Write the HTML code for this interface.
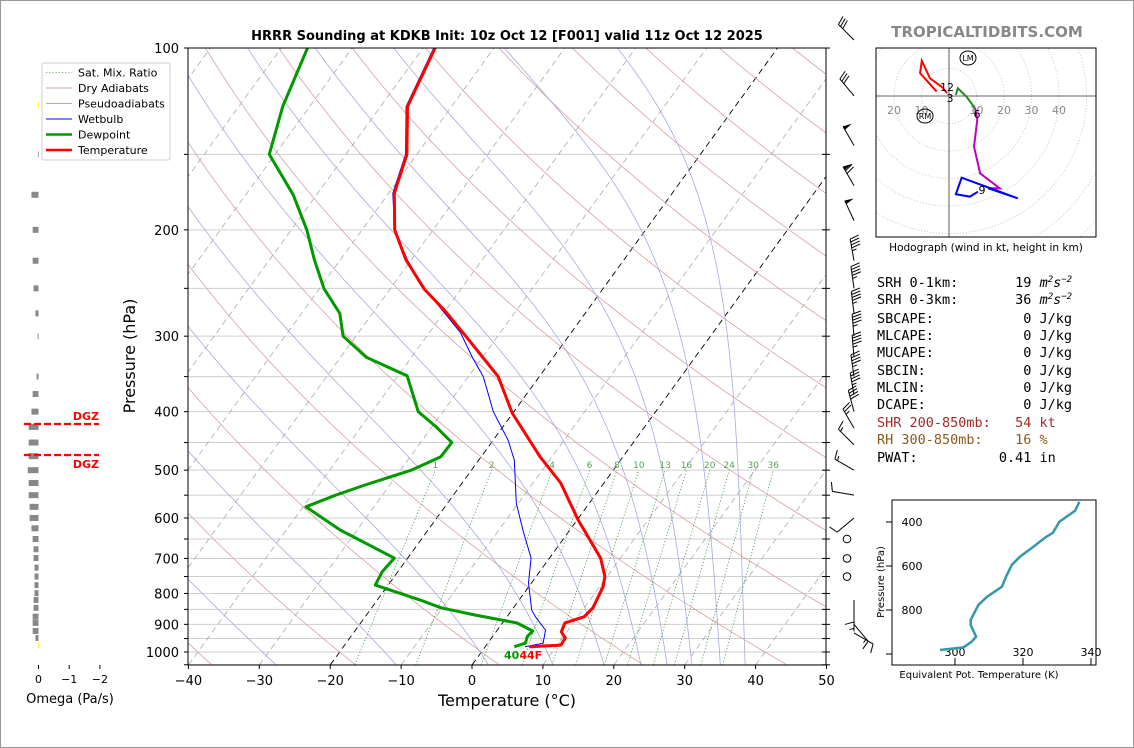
<!DOCTYPE html>
<html><head><meta charset="utf-8">
<style>
html,body{margin:0;padding:0;background:#fff;}
svg{display:block;}
text{font-family:"DejaVu Sans","Liberation Sans",sans-serif;}
.mono{font-family:"DejaVu Sans Mono","Liberation Mono",monospace;font-size:13.5px;}
</style></head>
<body>
<svg id="root" width="1134" height="748" viewBox="0 0 1134 748" xmlns="http://www.w3.org/2000/svg">
<defs><clipPath id="mainclip"><rect x="188" y="48" width="638" height="617"/></clipPath>
<clipPath id="hodoclip"><rect x="876" y="48" width="220" height="189"/></clipPath></defs>
<rect x="0.5" y="0.5" width="1133" height="747" fill="#fff" stroke="#999"/>
<text x="507" y="40" text-anchor="middle" font-size="13" font-weight="bold">HRRR Sounding at KDKB Init: 10z Oct 12 [F001] valid 11z Oct 12 2025</text>
<text x="987" y="37" text-anchor="middle" font-size="15" font-weight="bold" fill="#888">TROPICALTIDBITS.COM</text>
<g id="bg" clip-path="url(#mainclip)"></g>
<g id="prof" clip-path="url(#mainclip)"></g>
<g id="axes"></g>
<g id="barbs"></g>
<g id="omega"></g>
<g id="hodo"></g>
<g id="thetae"></g>
<g id="params">
<text class="mono" x="877" y="287" xml:space="preserve">SRH 0-1km:       19 <tspan font-style="italic">m<tspan baseline-shift="super" font-size="9">2</tspan>s<tspan baseline-shift="super" font-size="9">−2</tspan></tspan></text>
<text class="mono" x="877" y="304" xml:space="preserve">SRH 0-3km:       36 <tspan font-style="italic">m<tspan baseline-shift="super" font-size="9">2</tspan>s<tspan baseline-shift="super" font-size="9">−2</tspan></tspan></text>
<text class="mono" x="877" y="323" xml:space="preserve">SBCAPE:           0 J/kg</text>
<text class="mono" x="877" y="340" xml:space="preserve">MLCAPE:           0 J/kg</text>
<text class="mono" x="877" y="357" xml:space="preserve">MUCAPE:           0 J/kg</text>
<text class="mono" x="877" y="375" xml:space="preserve">SBCIN:            0 J/kg</text>
<text class="mono" x="877" y="392" xml:space="preserve">MLCIN:            0 J/kg</text>
<text class="mono" x="877" y="409" xml:space="preserve">DCAPE:            0 J/kg</text>
<text class="mono" x="877" y="427" xml:space="preserve" fill="#a52a2a">SHR 200-850mb:   54 kt</text>
<text class="mono" x="877" y="444" xml:space="preserve" fill="#8b5a1a">RH 300-850mb:    16 %</text>
<text class="mono" x="877" y="462" xml:space="preserve">PWAT:          0.41 in</text>
</g>
</svg>
<script>
// ---- Sounding data ----
const tempP = [100,125,150,174,200,224,251,272,300,326,350,402,475,525,604,699,750,780,845,874,895,926,948,974,980];
const tempC = [-68.3,-66.2,-61.4,-59.2,-55.4,-50.8,-45.1,-40.1,-34.5,-29.8,-25.8,-20.1,-11.7,-6.1,0.1,7.2,9.7,10.5,11.2,10.9,8.8,9.2,10.4,10.5,6.2];
const dewP = [100,125,150,175,200,224,250,275,300,325,349,400,424,450,475,500,529,550,575,628,699,736,775,820,845,868,895,923,943,967,980];
const dewC = [-86.3,-83.8,-80.8,-73.3,-67.8,-63.7,-59.4,-54.6,-51.8,-46.4,-38.7,-33.5,-29.4,-25.6,-25.7,-28.5,-33.5,-36.6,-39.6,-32.4,-21.9,-22.2,-21.8,-14.0,-10.2,-4.8,2.0,5.1,4.9,5.3,4.1];
const wbP = [100,125,150,174,200,224,248,273,296,326,350,400,446,481,567,632,699,769,852,874,920,967,980];
const wbC = [-68.5,-66.4,-61.6,-59.4,-55.4,-50.6,-45.7,-40.2,-35.6,-31.3,-27.9,-22.9,-17.9,-15.0,-10.3,-6.4,-2.6,-0.4,2.8,4.0,6.8,7.8,5.6];
const surfaceLabels = ['40','44F'];
const xTickVals = [-40,-30,-20,-10,0,10,20,30,40,50];
const yTickVals = [100,200,300,400,500,600,700,800,900,1000];
const mixRatios = [1,2,4,6,8,10,13,16,20,24,30,36];
const dryTheta = [-40,-20,0,20,40,60,80,100,120,140,160,180,200,220,240];
const moistStart = [-27.7,-10.7,2.3,11.4,18.6,23.8,27.5,31,35,38.5];
// winds
const barbP = [97,120,145,169,193,225,250,275,300,325,350,375,400,426,454,500,550,600,650,700,750,820,850,900,930];
const barbDir = [315,320,330,330,335,350,352,353,355,355,352,350,345,330,315,300,280,230,0,0,0,180,180,140,120];
const barbSpd = [30,30,50,70,50,45,45,45,45,45,45,45,40,25,15,15,10,10,0,0,0,10,5,15,10];
// omega
const omegaP = [124,150,175,200,225,250,275,300,350,374,400,424,450,474,500,525,550,575,600,624,650,676,699,725,750,775,799,820,845,874,895,923,948,975];
const omegaV = [0.01,0.02,0.23,0.19,0.19,0.16,0.1,0.03,0.06,0.19,0.23,0.32,0.32,0.32,0.35,0.32,0.32,0.29,0.29,0.23,0.19,0.16,0.16,0.13,0.13,0.13,0.13,0.16,0.16,0.19,0.19,0.19,0.1,0.01];
// hodograph (kt)
const hodoRedU = [-0.7,-2.7,-6.9,-9.9,-10.5,-4.5];
const hodoRedV = [1.1,3.4,6.4,12.8,8.3,1.6];
const hodoGreenU = [2.5,3.2,6.4,9.5];
const hodoGreenV = [0.4,2.8,-0.3,-4.5];
const hodoMagU = [9.5,10.3,9.1,11.3,18.5,14.2];
const hodoMagV = [-4.5,-8.5,-18.4,-28.1,-33.6,-33.5];
const hodoBlueU = [14.2,25,4.6,2.5,7.6,10.5];
const hodoBlueV = [-33.5,-37.2,-29.7,-35.7,-36.6,-34.8];
// theta-e
const thetaE = [295.6,302.5,304.9,306.2,304.6,304.6,306.9,309.4,313.8,315.0,316.7,319.1,323.1,326.5,328.8,330.7,335.3,336.6];
const thetaEP = [982,970,944,921,868,845,777,740,694,649,595,558,512,471,449,399,349,308];

const NS='http://www.w3.org/2000/svg';
function mk(parent,tag,attrs){const e=document.createElementNS(NS,tag);for(const k in attrs)e.setAttribute(k,attrs[k]);parent.appendChild(e);return e;}
function yP(p){return 48+604*Math.log10(p/100);}
function xT(T,p){return 472+7.09*T+0.725*(665-yP(p));}
function pts(ps,ts){return ps.map((p,i)=>xT(ts[i],p).toFixed(1)+','+yP(p).toFixed(1)).join(' ');}

const bg=document.getElementById('bg');
for(let p=100;p<=1050;p+=50){
  const l=mk(bg,'line',{x1:188,x2:826,y1:yP(p),y2:yP(p),stroke:'#cfcfcf','stroke-width':1});
  
  
}
for(let T=-110;T<=50;T+=10){
  const blk=(T===0||T===-20);
  const l=mk(bg,'line',{x1:xT(T,1050),y1:yP(1050),x2:xT(T,100),y2:yP(100),stroke:blk?'#000':'#aaa','stroke-width':blk?0.9:0.8,'stroke-dasharray':'6,4'});
  
  
}
dryTheta.forEach(th=>{
  const a=[];for(let p=1050;p>=100;p-=10){const T=(th+273.15)*Math.pow(p/1000,0.286)-273.15;a.push(xT(T,p).toFixed(1)+','+yP(p).toFixed(1));}
  const l=mk(bg,'polyline',{points:a.join(' '),fill:'none',stroke:'#d8a0a0','stroke-width':0.8});
  
  
});
function es(Tc){return 6.112*Math.exp(17.67*Tc/(Tc+243.5));}
function dTdp(T,p){const Tc=T-273.15;const e=es(Tc);const rs=0.622*e/(p-e);return (287.04*T+2.501e6*rs)/(1005.7+2.501e6*2.501e6*rs*0.622/(287.04*T*T))/p;}
moistStart.forEach(t0=>{
  let T=t0+273.15,p=1050;const a=[xT(t0,p).toFixed(1)+','+yP(p).toFixed(1)];
  while(p>100){const dp=-5;const k1=dTdp(T,p);const k2=dTdp(T+k1*dp,p+dp);T+=0.5*(k1+k2)*dp;p+=dp;a.push(xT(T-273.15,p).toFixed(1)+','+yP(p).toFixed(1));}
  const l=mk(bg,'polyline',{points:a.join(' '),fill:'none',stroke:'#a8a8e0','stroke-width':0.8});
  
  
});
function tdW(w,p){const e=w*p/(622+w);const g=Math.log(e/6.112);return 243.5*g/(17.67-g);}
mixRatios.forEach(w=>{
  const l=mk(bg,'line',{x1:xT(tdW(w,1050),1050),y1:yP(1050),x2:xT(tdW(w,500),500),y2:yP(500),stroke:'#3f9a3f','stroke-width':0.8,'stroke-dasharray':'1.2,2'});
  
  
  const t=mk(bg,'text',{x:xT(tdW(w,500),500),y:468,'font-size':9,fill:'#5aa05a','text-anchor':'middle'});
  t.textContent=String(w);
  
  
});

const prof=document.getElementById('prof');
const dl=mk(prof,'polyline',{points:pts(dewP,dewC),fill:'none',stroke:'#009900','stroke-width':3,'stroke-linejoin':'round'});


const wl=mk(prof,'polyline',{points:pts(wbP,wbC),fill:'none',stroke:'#0000ff','stroke-width':1});


const tl=mk(prof,'polyline',{points:pts(tempP,tempC),fill:'none',stroke:'#ff0000','stroke-width':3,'stroke-linejoin':'round'});


const sfc=mk(prof,'text',{x:504,y:659,'font-size':11,'font-weight':'bold'});


sfc.innerHTML='<tspan fill="#009900">'+surfaceLabels[0]+'</tspan><tspan fill="#ff0000">'+surfaceLabels[1]+'</tspan>';

const ax=document.getElementById('axes');
const fr=mk(ax,'rect',{x:188,y:48,width:638,height:617,fill:'none',stroke:'#000','stroke-width':1});


xTickVals.forEach(v=>{
  const x=472+7.09*v;
  const t=mk(ax,'line',{x1:x,x2:x,y1:665,y2:669,stroke:'#000'});
  
  
  const lb=mk(ax,'text',{x:x,y:685,'font-size':13,'text-anchor':'middle'});
  lb.textContent=(v<0?'\u2212':'')+Math.abs(v);
  
  
});
for(let p=100;p<=1050;p+=50){
  const major=yTickVals.indexOf(p)>=0;
  const y=yP(p);
  const t=mk(ax,'line',{x1:184,x2:188,y1:y,y2:y,stroke:'#000'});
  
  
  const t2=mk(ax,'line',{x1:822,x2:830,y1:y,y2:y,stroke:'#000'});
  
  
  if(major){
    const lb=mk(ax,'text',{x:179,y:y+5,'font-size':13,'text-anchor':'end'});
    lb.textContent=String(p);
    
    
  }
}
const xt=mk(ax,'text',{x:507,y:706,'font-size':16,'text-anchor':'middle'});
xt.textContent='Temperature (°C)';


const yt=mk(ax,'text',{x:135,y:356,'font-size':16,'text-anchor':'middle',transform:'rotate(-90 135 356)'});
yt.textContent='Pressure (hPa)';



const bg2=document.getElementById('barbs');
barbP.forEach((p,i)=>{
  const bx=854,by=yP(p),spd=barbSpd[i],d=barbDir[i]*Math.PI/180;
  const g=mk(bg2,'g',{stroke:'#000','stroke-width':1,fill:'#000'});
  
  
  if(spd<3){mk(g,'circle',{cx:847,cy:by,r:3.8,fill:'none'});return;}
  const sx=Math.sin(d),sy=-Math.cos(d),L=22;
  const tx=bx+sx*L,ty=by+sy*L;
  mk(g,'line',{x1:bx,y1:by,x2:tx,y2:ty});
  const fx=-sy,fy=sx;
  let rem=Math.round(spd/5)*5,pos=0;
  while(rem>=50){
    const ax1=tx-sx*pos,ay1=ty-sy*pos;
    mk(g,'polygon',{points:`${ax1},${ay1} ${ax1+fx*9-sx*2},${ay1+fy*9-sy*2} ${ax1-sx*4},${ay1-sy*4}`,stroke:'none'});
    pos+=5;rem-=50;
  }
  while(rem>=10){
    const ax1=tx-sx*pos,ay1=ty-sy*pos;
    mk(g,'line',{x1:ax1,y1:ay1,x2:ax1+fx*9+sx*2.5,y2:ay1+fy*9+sy*2.5});
    pos+=3;rem-=10;
  }
  if(rem>=5){
    if(pos===0)pos=3;
    const ax1=tx-sx*pos,ay1=ty-sy*pos;
    mk(g,'line',{x1:ax1,y1:ay1,x2:ax1+fx*4.5+sx*1.2,y2:ay1+fy*4.5+sy*1.2});
  }
});

const om=document.getElementById('omega');
function xO(v){return 38.5-v*30.7;}
omegaP.forEach((p,i)=>{
  const v=omegaV[i];
  const r=mk(om,'rect',{x:xO(v),y:yP(p)-3,width:Math.max(xO(0)-xO(v),0.8),height:6,fill:v<0.015?'#ffee00':'#888'});
  
  
});
[0,-1,-2].forEach(v=>{
  const t=mk(om,'line',{x1:xO(v),x2:xO(v),y1:665,y2:669,stroke:'#000'});
  
  
  const lb=mk(om,'text',{x:xO(v),y:683,'font-size':11,'text-anchor':'middle'});
  lb.textContent=v===0?'0':'\u2212'+Math.abs(v);
  
  
});
const ol=mk(om,'text',{x:70,y:703,'font-size':13,'text-anchor':'middle'});
ol.textContent='Omega (Pa/s)';


[424,455].forEach((y,i)=>{
  const l=mk(om,'line',{x1:24,x2:99,y1:y,y2:y,stroke:'#ff0000','stroke-width':2.2,'stroke-dasharray':'7,3'});
  
  
  const t=mk(om,'text',{x:99,y:i===0?420:468,'font-size':11,'font-weight':'bold',fill:'#ff0000','text-anchor':'end'});
  t.textContent='DGZ';
  
  
});
const lg=mk(om,'g',{});


mk(lg,'rect',{x:42,y:63,width:128,height:97,rx:2,fill:'#fff',stroke:'#ccc'});
const legItems=[['Sat. Mix. Ratio','#3f9a3f',0.8,'1.2,2'],['Dry Adiabats','#d8a0a0',1,''],['Pseudoadiabats','#a8a8e0',1,''],['Wetbulb','#0000ff',1,''],['Dewpoint','#009900',2.5,''],['Temperature','#ff0000',2.5,'']];
legItems.forEach((it,i)=>{
  const y=72.5+i*15.5;
  const e=mk(lg,'g',{});
  
  
  mk(e,'line',{x1:46,x2:72,y1:y,y2:y,stroke:it[1],'stroke-width':it[2],'stroke-dasharray':it[3]});
  const t=mk(e,'text',{x:78,y:y+4,'font-size':11});
  t.textContent=it[0];
});

const ho=document.getElementById('hodo');
function hx(u){return 949+u*2.75;}
function hy(v){return 96-v*2.75;}
const hc=mk(ho,'g',{'clip-path':'url(#hodoclip)'});
for(let r=10;r<=80;r+=10){
  const c=mk(hc,'circle',{cx:hx(0),cy:hy(0),r:r*2.75,fill:'none',stroke:'#bbb','stroke-width':0.8,'stroke-dasharray':'1,2'});
  
  
}
mk(hc,'line',{x1:876,x2:1096,y1:hy(0),y2:hy(0),stroke:'#333','stroke-width':0.8});
mk(hc,'line',{x1:hx(0),x2:hx(0),y1:48,y2:237,stroke:'#333','stroke-width':0.8});
[[-20,'20'],[-10,'10'],[10,'10'],[20,'20'],[30,'30'],[40,'40']].forEach(a=>{
  const t=mk(hc,'text',{x:hx(a[0]),y:114,'font-size':11,fill:'#888','text-anchor':'middle'});
  t.textContent=a[1];
  
  
});
function hline(us,vs,col,name){
  const l=mk(hc,'polyline',{points:us.map((u,i)=>hx(u)+','+hy(vs[i])).join(' '),fill:'none',stroke:col,'stroke-width':2});
  
  
}
hline(hodoRedU,hodoRedV,'#ff0000','hodograph-0-3km');
hline(hodoGreenU,hodoGreenV,'#228b22','hodograph-3-6km');
hline(hodoMagU,hodoMagV,'#c000c0','hodograph-6-9km');
hline(hodoBlueU,hodoBlueV,'#0000ff','hodograph-9-12km');
[['12',947,91],['3',950,102],['6',977,118],['9',982,194]].forEach(a=>{
  const t=mk(hc,'text',{x:a[1],y:a[2],'font-size':11,'text-anchor':'middle'});
  t.textContent=a[0];
  
  
});
[['LM',968,58],['RM',925,116]].forEach(a=>{
  const g=mk(hc,'g',{});
  
  
  mk(g,'ellipse',{cx:a[1],cy:a[2],rx:8,ry:7,fill:'none',stroke:'#000','stroke-width':1});
  const t=mk(g,'text',{x:a[1],y:a[2]+3,'font-size':8,'text-anchor':'middle'});
  t.textContent=a[0];
});
const hf=mk(ho,'rect',{x:876,y:48,width:220,height:189,fill:'none',stroke:'#000','stroke-width':1});


const hcap=mk(ho,'text',{x:986,y:251,'font-size':10.5,'text-anchor':'middle'});
hcap.textContent='Hodograph (wind in kt, height in km)';



const te=document.getElementById('thetae');
function tx(th){return 955+(th-300)*3.4;}
function ty(p){return 522+(p-400)*0.22;}
const tf=mk(te,'rect',{x:892,y:500,width:204,height:165,fill:'none',stroke:'#000','stroke-width':1});


[400,600,800,1000].forEach(p=>{
  mk(te,'line',{x1:886,x2:892,y1:ty(p),y2:ty(p),stroke:'#000'});
  if(p<1000){
    const t=mk(te,'text',{x:912,y:ty(p)+4,'font-size':11,'text-anchor':'middle'});
    t.textContent=String(p);
    
    
  }
});
[300,320,340].forEach(v=>{
  mk(te,'line',{x1:tx(v),x2:tx(v),y1:658,y2:665,stroke:'#000'});
  const t=mk(te,'text',{x:tx(v),y:656,'font-size':11,'text-anchor':'middle'});
  t.textContent=String(v);
  
  
});
const tel=mk(te,'polyline',{points:thetaE.map((v,i)=>tx(v)+','+ty(thetaEP[i])).join(' '),fill:'none',stroke:'#3399aa','stroke-width':2.5});


const tyl=mk(te,'text',{x:884,y:582,'font-size':10,'text-anchor':'middle',transform:'rotate(-90 884 582)'});
tyl.textContent='Pressure (hPa)';


const txl=mk(te,'text',{x:979,y:678,'font-size':10,'text-anchor':'middle'});
txl.textContent='Equivalent Pot. Temperature (K)';


</script>
</body></html>
